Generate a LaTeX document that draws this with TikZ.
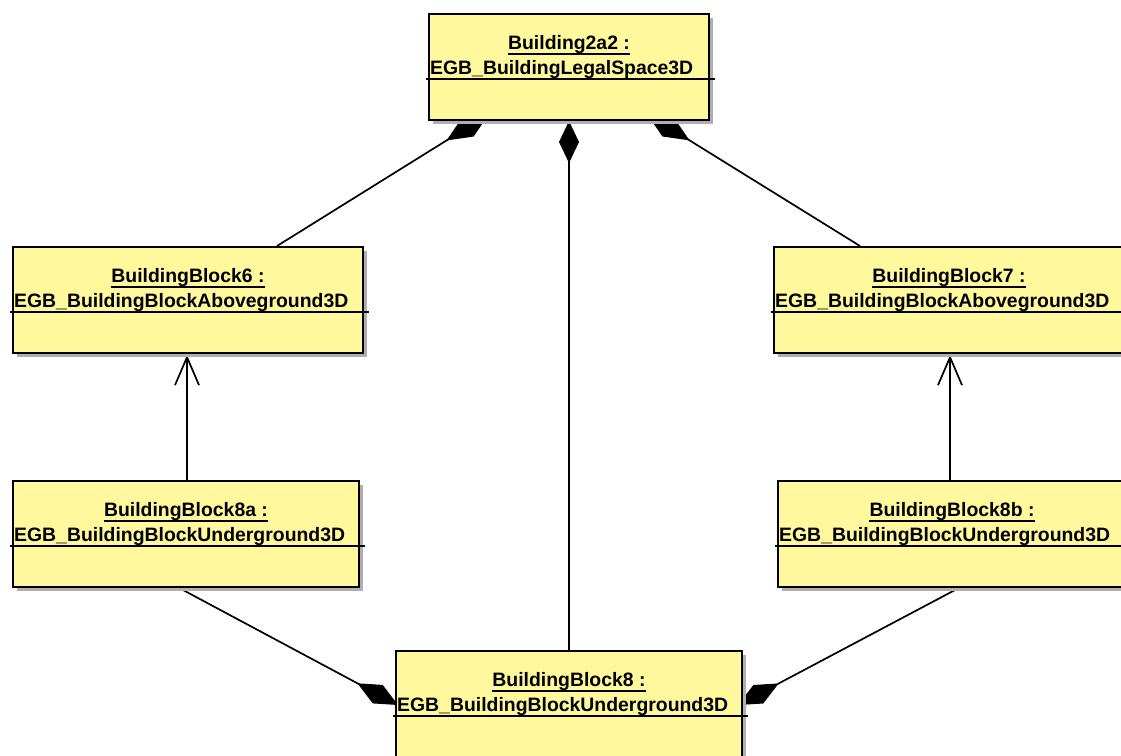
\documentclass[tikz,border=0pt]{standalone}
\usepackage{fontspec}
\setmainfont{Liberation Sans}
\usetikzlibrary{arrows.meta,calc,shadows}
\definecolor{umlyellow}{RGB}{255,248,157}
\definecolor{shadowgray}{RGB}{175,175,175}
\pgfdeclarelayer{bg}
\pgfsetlayers{bg,main}
\tikzset{
  umlbox/.style={draw=black, line width=2pt, fill=umlyellow, rectangle, inner sep=0pt,
    drop shadow={shadow xshift=4pt, shadow yshift=-4pt, fill=shadowgray, opacity=1}},
  titletext/.style={inner sep=0pt, font=\fontsize{19.4}{22}\selectfont\bfseries},
  typetext/.style={inner sep=0pt, font=\fontsize{19.4}{22}\selectfont\bfseries},
  ulline/.style={line width=2pt},
  sepline/.style={line width=1.5pt},
  comp/.style={line width=1.7pt, -{Diamond[length=42pt,width=20pt]}},
  complong/.style={line width=1.7pt, -{Diamond[length=50pt,width=22pt]}},
  compbottom/.style={line width=1.7pt, -{Diamond[length=46pt,width=21pt]}},
  navarrow/.style={line width=1.7pt, -{Straight Barb[length=28pt,width=24pt,line width=1.7pt]}},
}
\newcommand{\umlobj}[7]{%
  \node[umlbox, anchor=north west, minimum width=#4pt, minimum height=#5pt] (#1) at (#2,#3) {};
  \node[titletext, anchor=base] (#1t) at ($(#1.north)+(0,36)$) {#6\hspace{12pt}};
  \draw[ulline] ($(#1t.base west)+(0,5)$) -- ($(#1t.base east)+(0,5)$);
  \node[typetext, anchor=base west] (#1y) at ($(#1.north west)+(2,61)$) {#7};
  \draw[sepline] ($(#1.north west)+(-2,66)$) -- ($(#1.north east)+(5,66)$);
}
\begin{document}
\begin{tikzpicture}[x=1pt,y=-1pt]
\useasboundingbox (0,0) rectangle (1121,755);

\umlobj{top}{428}{13}{280}{106}{Building2a2 :}{EGB\_BuildingLegalSpace3D}
\umlobj{bbsix}{12}{246}{350}{106}{BuildingBlock6 :}{EGB\_BuildingBlockAboveground3D}
\umlobj{bbseven}{773}{246}{350}{106}{BuildingBlock7 :}{EGB\_BuildingBlockAboveground3D}
\umlobj{bbeighta}{12}{480}{346}{106}{BuildingBlock8a :}{EGB\_BuildingBlockUnderground3D}
\umlobj{bbeightb}{777}{480}{348}{106}{BuildingBlock8b :}{EGB\_BuildingBlockUnderground3D}
\umlobj{bbeight}{395}{650}{346}{112}{BuildingBlock8 :}{EGB\_BuildingBlockUnderground3D}

\coordinate (tl) at (489,114);
\coordinate (tr) at (647,114);
\coordinate (bl) at (398,705);
\coordinate (br) at (738,705);

\begin{pgfonlayer}{bg}
  \fill[white] (0,0) rectangle (1121,755);
  \draw[complong] ($(bbsix.north west)+(265,0)$) -- (tl);
  \draw[complong] ($(bbseven.north west)+(87,0)$) -- (tr);
  \draw[comp] (bbeight.north) -- (top.south);
  \draw[compbottom] ($(bbeighta.south west)+(171,2)$) -- (bl);
  \draw[compbottom] ($(bbeightb.south west)+(178,2)$) -- (br);
  \draw[navarrow] ($(bbeighta.north west)+(175,0)$) -- ($(bbsix.south west)+(175,1)$);
  \draw[navarrow] ($(bbeightb.north west)+(173,0)$) -- ($(bbseven.south west)+(177,1)$);
\end{pgfonlayer}
\end{tikzpicture}
\end{document}
